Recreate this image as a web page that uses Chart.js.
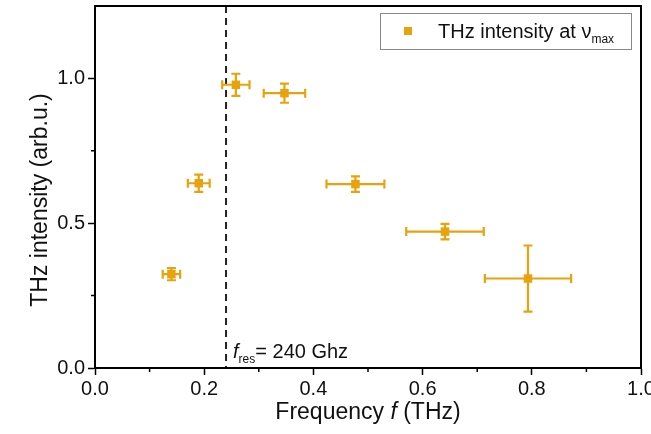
<!DOCTYPE html>
<html>
<head>
<meta charset="utf-8">
<script src="https://cdn.jsdelivr.net/npm/chart.js@4/dist/chart.umd.min.js"></script>
<style>
  body { margin: 0; background: #fff; }
  #wrap { width: 651px; height: 434px; }
</style>
</head>
<body>
<div id="wrap"><canvas id="myCanvas"></canvas></div>
<script>
// data
const freq = [0.14, 0.19, 0.258, 0.347, 0.477, 0.641, 0.793];
const intensity = [0.324, 0.638, 0.978, 0.949, 0.635, 0.471, 0.309];
const freqErr = [0.016, 0.02, 0.025, 0.038, 0.053, 0.071, 0.079];
const intensityErr = [0.021, 0.03, 0.038, 0.033, 0.027, 0.027, 0.114];
const fRes = 0.24;
const xTicks = [0, 0.2, 0.4, 0.6, 0.8, 1.0];
const xMinor = [0.1, 0.3, 0.5, 0.7, 0.9];
const yTicks = [0, 0.5, 1.0];
const yMinor = [0.25, 0.75];

const orange = '#e8a20c';
const FONT = '"Liberation Sans", Arial, sans-serif';

// draws "main" then a subscript, returns end x
function subText(ctx, x, y, main, sub, size, italicMain) {
  ctx.font = (italicMain ? 'italic ' : '') + size + 'px ' + FONT;
  ctx.fillText(main, x, y);
  x += ctx.measureText(main).width;
  ctx.font = Math.round(size * 0.62) + 'px ' + FONT;
  ctx.fillText(sub, x, y + size * 0.25);
  return x + ctx.measureText(sub).width;
}

const overlay = {
  id: 'overlay',
  beforeDatasetsDraw(chart) {
    const ctx = chart.ctx;
    const xs = chart.scales.x, ys = chart.scales.y;
    const area = chart.chartArea;
    ctx.save();
    // resonance line
    ctx.strokeStyle = '#222';
    ctx.lineWidth = 2;
    ctx.setLineDash([7, 5]);
    const xr = xs.getPixelForValue(fRes);
    ctx.beginPath();
    ctx.moveTo(xr, area.top);
    ctx.lineTo(xr, area.bottom);
    ctx.stroke();
    ctx.setLineDash([]);
    // error bars
    ctx.strokeStyle = orange;
    ctx.lineWidth = 2.2;
    const cap = 4.5;
    freq.forEach((f, i) => {
      const px = xs.getPixelForValue(f), py = ys.getPixelForValue(intensity[i]);
      const x0 = xs.getPixelForValue(f - freqErr[i]), x1 = xs.getPixelForValue(f + freqErr[i]);
      const y0 = ys.getPixelForValue(intensity[i] - intensityErr[i]), y1 = ys.getPixelForValue(intensity[i] + intensityErr[i]);
      ctx.beginPath();
      ctx.moveTo(x0, py); ctx.lineTo(x1, py);
      ctx.moveTo(x0, py - cap); ctx.lineTo(x0, py + cap);
      ctx.moveTo(x1, py - cap); ctx.lineTo(x1, py + cap);
      ctx.moveTo(px, y0); ctx.lineTo(px, y1);
      ctx.moveTo(px - cap, y0); ctx.lineTo(px + cap, y0);
      ctx.moveTo(px - cap, y1); ctx.lineTo(px + cap, y1);
      ctx.stroke();
    });
    ctx.restore();
  },
  afterDraw(chart) {
    const ctx = chart.ctx;
    const xs = chart.scales.x, ys = chart.scales.y;
    const a = chart.chartArea;
    ctx.save();
    // frame
    ctx.strokeStyle = '#000';
    ctx.lineWidth = 2;
    ctx.strokeRect(a.left, a.top, a.right - a.left, a.bottom - a.top);
    // minor ticks
    ctx.lineWidth = 1.5;
    ctx.beginPath();
    xMinor.forEach(v => {
      const px = xs.getPixelForValue(v);
      ctx.moveTo(px, a.bottom); ctx.lineTo(px, a.bottom + 4);
    });
    yMinor.forEach(v => {
      const py = ys.getPixelForValue(v);
      ctx.moveTo(a.left, py); ctx.lineTo(a.left - 4, py);
    });
    ctx.stroke();

    ctx.fillStyle = '#111';
    ctx.textBaseline = 'alphabetic';
    // x title with italic f
    const size = 23;
    ctx.font = size + 'px ' + FONT;
    const p1 = 'Frequency ', p3 = ' (THz)';
    const w1 = ctx.measureText(p1).width, w3 = ctx.measureText(p3).width;
    ctx.font = 'italic ' + size + 'px ' + FONT;
    const w2 = ctx.measureText('f').width;
    let tx = (a.left + a.right) / 2 - (w1 + w2 + w3) / 2;
    const ty = 419;
    ctx.font = size + 'px ' + FONT;
    ctx.fillText(p1, tx, ty);
    ctx.font = 'italic ' + size + 'px ' + FONT;
    ctx.fillText('f', tx + w1, ty);
    ctx.font = size + 'px ' + FONT;
    ctx.fillText(p3, tx + w1 + w2, ty);

    // y title
    ctx.save();
    ctx.translate(47, 200);
    ctx.rotate(-Math.PI / 2);
    ctx.textAlign = 'center';
    ctx.font = size + 'px ' + FONT;
    ctx.fillText('THz intensity (arb.u.)', 0, 0);
    ctx.restore();

    // annotation
    let ex = subText(ctx, xs.getPixelForValue(fRes) + 7, 358, 'f', 'res', 20, true);
    ctx.font = '20px ' + FONT;
    ctx.fillText('= 240 Ghz', ex, 358);

    // legend
    ctx.strokeStyle = '#888';
    ctx.lineWidth = 1;
    ctx.strokeRect(380.5, 13.5, 251, 36);
    ctx.fillStyle = orange;
    ctx.fillRect(404, 27, 8, 8);
    ctx.fillStyle = '#111';
    subText(ctx, 438, 38, 'THz intensity at \u03bd', 'max', 20, false);
    ctx.restore();
  }
};

const ctx = document.getElementById('myCanvas').getContext('2d');
new Chart(ctx, {
  type: 'scatter',
  data: {
    datasets: [{
      label: 'THz intensity at vmax',
      data: freq.map((f, i) => ({ x: f, y: intensity[i] })),
      pointStyle: 'rect',
      pointRadius: 6,
      pointBackgroundColor: orange,
      pointBorderColor: orange,
      pointBorderWidth: 0
    }]
  },
  plugins: [overlay],
  options: {
    responsive: true,
    maintainAspectRatio: false,
    animation: false,
    layout: { padding: { top: 5, right: 10, left: 0, bottom: 0 } },
    plugins: { legend: { display: false }, tooltip: { enabled: false } },
    scales: {
      x: {
        type: 'linear',
        min: 0, max: 1,
        afterBuildTicks: s => { s.ticks = xTicks.map(v => ({ value: v })); },
        afterFit: s => { s.height = 66; s.paddingLeft = 0; s.paddingRight = 0; },
        ticks: { color: '#111', font: { family: FONT, size: 20 }, padding: 2, maxRotation: 0, autoSkip: false,
          callback: v => Number(v).toFixed(1) },
        grid: { drawOnChartArea: false, tickLength: 7, tickColor: '#000', tickWidth: 1.5 },
        border: { color: '#000', width: 2 }
      },
      y: {
        type: 'linear',
        min: 0, max: 1.25,
        afterBuildTicks: s => { s.ticks = yTicks.map(v => ({ value: v })); },
        afterFit: s => { s.width = 95; s.paddingTop = 0; s.paddingBottom = 0; },
        ticks: { color: '#111', font: { family: FONT, size: 20 }, padding: 3,
          callback: v => Number(v).toFixed(1) },
        grid: { drawOnChartArea: false, tickLength: 7, tickColor: '#000', tickWidth: 1.5 },
        border: { color: '#000', width: 2 }
      }
    }
  }
});
</script>
</body>
</html>
